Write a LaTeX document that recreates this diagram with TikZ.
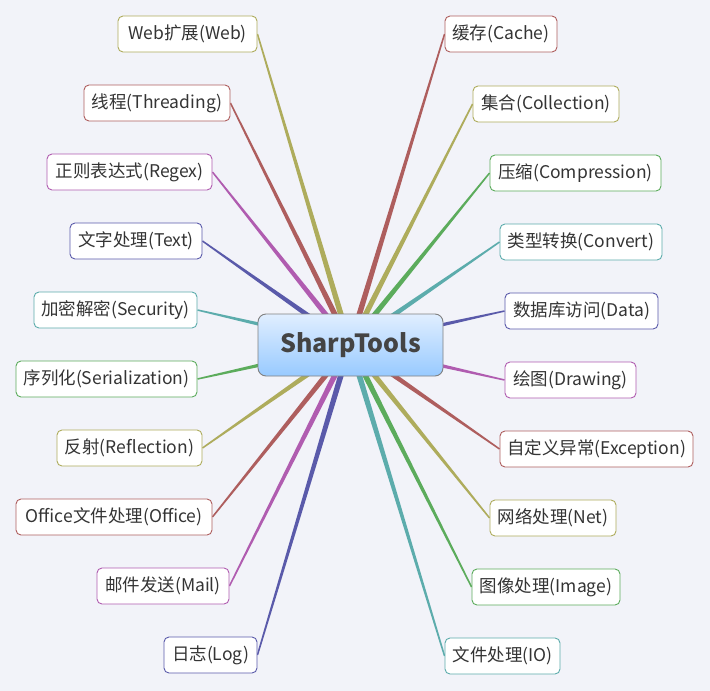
\documentclass[tikz,border=0pt]{standalone}
\usepackage{fontspec}
\setmainfont{Noto Sans CJK SC}
\usetikzlibrary{calc}
\pgfdeclarelayer{back}
\pgfdeclarelayer{bg}
\pgfsetlayers{back,bg,main}
\definecolor{bgc}{RGB}{242,243,249}
\definecolor{cOl}{RGB}{174,172,92}
\definecolor{cRd}{RGB}{174,94,94}
\definecolor{cPu}{RGB}{176,92,176}
\definecolor{cBl}{RGB}{90,90,170}
\definecolor{cTe}{RGB}{92,172,172}
\definecolor{cGr}{RGB}{92,172,92}
\definecolor{txt}{RGB}{52,52,52}
\tikzset{
  leaf/.style={draw=#1, fill=white, rounded corners=5pt, line width=0.9pt,
    minimum height=36pt, inner sep=0pt, text=txt,
    font=\fontsize{17.5}{19}\selectfont},
  hub/.style={draw={rgb,255:red,128;green,128;blue,128}, line width=0.9pt,
    rounded corners=8pt, top color={rgb,255:red,224;green,238;blue,255},
    bottom color={rgb,255:red,152;green,202;blue,255},
    minimum width=185pt, minimum height=62pt, inner sep=0pt,
    text={rgb,255:red,68;green,68;blue,68},
    font=\fontsize{25}{28}\selectfont\bfseries}
}
\newcommand\taper[3]{%
  \fill[#3] ($(#1)!3pt!90:(#2)$) -- ($(#2)!0.75pt!-90:(#1)$) --
    ($(#2)!0.75pt!90:(#1)$) -- ($(#1)!3pt!-90:(#2)$) -- cycle;}
\begin{document}
\begin{tikzpicture}[x=1pt,y=-1pt]
\begin{pgfonlayer}{back}
\fill[bgc] (0,0) rectangle (710,691);
\end{pgfonlayer}
\useasboundingbox (0,0) rectangle (710,691);
\node[hub] (hub) at (350.5,345) {SharpTools};
\coordinate (o) at (350,345);
% left
\node[leaf=cOl, minimum width=139pt] (web) at (187.5,34) {Web扩展(Web)};
\node[leaf=cRd, minimum width=146pt] (thr) at (157,103) {线程(Threading)};
\node[leaf=cPu, minimum width=165pt] (reg) at (129.5,172) {正则表达式(Regex)};
\node[leaf=cBl, minimum width=132pt] (txt) at (136,241) {文字处理(Text)};
\node[leaf=cTe, minimum width=163pt] (sec) at (115.5,310) {加密解密(Security)};
\node[leaf=cGr, minimum width=181pt] (ser) at (106.5,379) {序列化(Serialization)};
\node[leaf=cOl, minimum width=145pt] (ref) at (129.5,448) {反射(Reflection)};
\node[leaf=cRd, minimum width=196pt] (off) at (114,517) {Office文件处理(Office)};
\node[leaf=cPu, minimum width=132pt] (mail) at (163,586) {邮件发送(Mail)};
\node[leaf=cBl, minimum width=93pt] (log) at (210.5,655) {日志(Log)};
% right
\node[leaf=cRd, minimum width=112pt] (cache) at (501,34) {缓存(Cache)};
\node[leaf=cOl, minimum width=146pt] (coll) at (546,104) {集合(Collection)};
\node[leaf=cGr, minimum width=171pt] (comp) at (575.5,173) {压缩(Compression)};
\node[leaf=cTe, minimum width=162pt] (conv) at (581,242) {类型转换(Convert)};
\node[leaf=cBl, minimum width=153pt] (data) at (581.5,311) {数据库访问(Data)};
\node[leaf=cPu, minimum width=131pt] (draw) at (570.5,380) {绘图(Drawing)};
\node[leaf=cRd, minimum width=193pt] (exc) at (596.5,449) {自定义异常(Exception)};
\node[leaf=cOl, minimum width=126pt] (net) at (553,518) {网络处理(Net)};
\node[leaf=cGr, minimum width=148pt] (img) at (546,587) {图像处理(Image)};
\node[leaf=cTe, minimum width=115pt] (io) at (502.5,656) {文件处理(IO)};
\begin{pgfonlayer}{bg}
\taper{o}{web.east}{cOl}
\taper{o}{thr.east}{cRd}
\taper{o}{reg.east}{cPu}
\taper{o}{txt.east}{cBl}
\taper{o}{sec.east}{cTe}
\taper{o}{ser.east}{cGr}
\taper{o}{ref.east}{cOl}
\taper{o}{off.east}{cRd}
\taper{o}{mail.east}{cPu}
\taper{o}{log.east}{cBl}
\taper{o}{cache.west}{cRd}
\taper{o}{coll.west}{cOl}
\taper{o}{comp.west}{cGr}
\taper{o}{conv.west}{cTe}
\taper{o}{data.west}{cBl}
\taper{o}{draw.west}{cPu}
\taper{o}{exc.west}{cRd}
\taper{o}{net.west}{cOl}
\taper{o}{img.west}{cGr}
\taper{o}{io.west}{cTe}
\end{pgfonlayer}
\end{tikzpicture}
\end{document}
